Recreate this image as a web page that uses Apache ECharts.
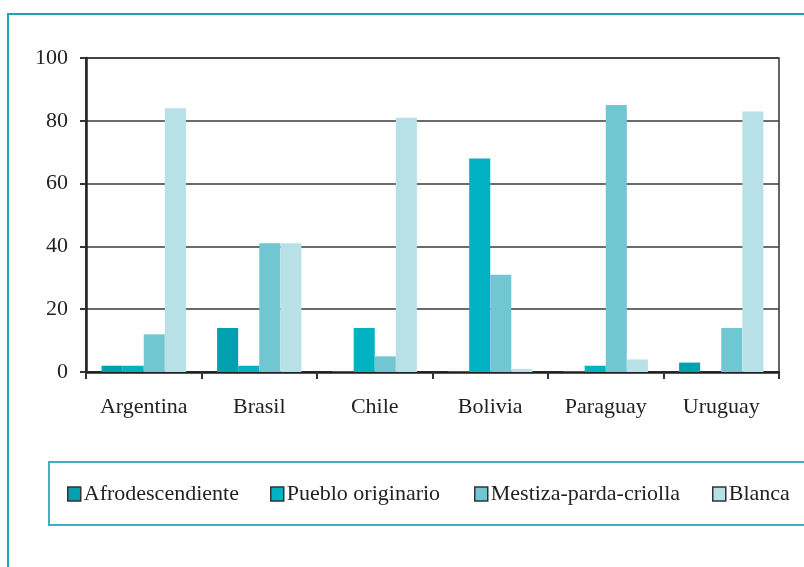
<!DOCTYPE html>
<html>
<head>
<meta charset="utf-8">
<script src="https://cdn.jsdelivr.net/npm/echarts@6/dist/echarts.min.js"></script>
<style>
  html, body { margin: 0; padding: 0; background: #fff; }
  #myChart { width: 804px; height: 567px; }
</style>
</head>
<body>
<div id="myChart"></div>
<script>
// categorias del eje x
var paises = ["Argentina", "Brasil", "Chile", "Bolivia", "Paraguay", "Uruguay"];
var grupos = ["Afrodescendiente", "Pueblo originario", "Mestiza-parda-criolla", "Blanca"];
var colores = ["#00A0B0", "#00B2C2", "#71C7D1", "#B8E1E7"];

// valores (%)
var afrodescendiente = [2, 14, 0.2, 0.2, 0.2, 3];
var puebloOriginario = [2, 2, 14, 68, 2, 0];
var mestiza = [12, 41, 5, 31, 85, 14];
var blanca = [84, 41, 81, 1, 4, 83];
var valores = [afrodescendiente, puebloOriginario, mestiza, blanca];

var fuente = "Liberation Serif";
var tinta = "#222";
var marco = "#1AA6B3";

var myChart = echarts.init(document.getElementById("myChart"));

var series = grupos.map(function (g, i) {
  return {
    name: g,
    type: "bar",
    data: valores[i],
    barGap: "0%",
    barCategoryGap: "27%",
    itemStyle: { color: colores[i] },
    emphasis: { disabled: true }
  };
});

// una leyenda por grupo para colocarlas donde estan en el original
var posLeyenda = [67, 270, 474, 712];
var legend = grupos.map(function (g, i) {
  return {
    data: [g],
    left: posLeyenda[i],
    top: 483,
    padding: 0,
    icon: "rect",
    itemWidth: 13,
    itemHeight: 14,
    itemGap: 0,
    selectedMode: false,
    itemStyle: { borderColor: "#333", borderWidth: 1.5 },
    textStyle: { fontFamily: fuente, fontSize: 22, color: tinta, padding: [0, 0, 0, -2] }
  };
});

var option = {
  animation: false,
  textStyle: { fontFamily: fuente },
  grid: {
    left: 86, right: 25, top: 58, bottom: 195,
    show: true, borderColor: "#333", borderWidth: 1.5
  },
  legend: legend,
  xAxis: {
    type: "category",
    data: paises,
    axisLine: { lineStyle: { color: tinta, width: 2.5 } },
    axisTick: { show: true, length: 7, lineStyle: { color: "#333", width: 2 } },
    axisLabel: { fontFamily: fuente, fontSize: 22, color: tinta, margin: 24 }
  },
  yAxis: {
    type: "value",
    min: 0, max: 100, interval: 20,
    axisLine: { show: true, lineStyle: { color: tinta, width: 2.5 } },
    axisTick: { show: true, length: 6, lineStyle: { color: "#333", width: 2 } },
    axisLabel: { fontFamily: fuente, fontSize: 22, color: tinta, margin: 18 },
    splitLine: { lineStyle: { color: "#3a3a3a", width: 1.5 } }
  },
  graphic: [
    {
      type: "polyline",
      shape: { points: [[8, 600], [8, 14], [820, 14]] },
      style: { stroke: marco, lineWidth: 2, fill: null },
      silent: true
    },
    {
      type: "rect",
      shape: { x: 49, y: 462, width: 760, height: 63 },
      style: { stroke: "#3BB3BF", lineWidth: 2, fill: null },
      silent: true
    }
  ],
  series: series
};

myChart.setOption(option);
window.onresize = myChart.resize;
</script>
</body>
</html>
